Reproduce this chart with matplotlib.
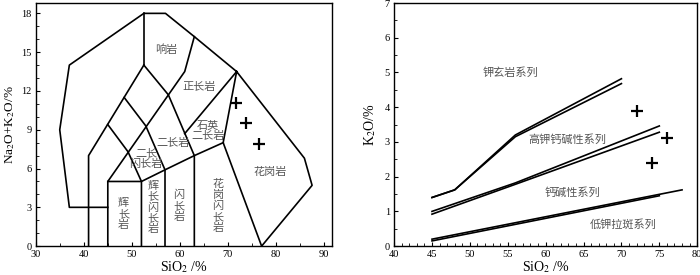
import matplotlib
matplotlib.use('Agg')
import matplotlib.pyplot as plt
from matplotlib.ticker import MultipleLocator

plt.rcParams['font.family'] = ['Liberation Serif', 'Noto Sans CJK SC']
plt.rcParams['mathtext.fontset'] = 'stix'

# ---- left panel: TAS (plutonic) field boundaries ----
outer_x = [45, 37, 35, 37, 52.5, 57, 63, 71.8, 85.9, 87.5, 77, 69, 71.8]
outer_y = [3, 3, 9, 14, 18, 18, 16.2, 13.5, 6.8, 4.7, 0, 8, 13.5]
b1_x, b1_y = [52.5, 52.5], [18, 14]
b2_x, b2_y = [52.5, 41, 41], [14, 7, 0]
b3_x, b3_y = [52.5, 57.6, 63, 63], [14, 11.7, 7, 0]
b4_x, b4_y = [63, 61, 45, 45], [16.2, 13.5, 5, 0]
b5_x, b5_y = [48.4, 52.9, 56.9, 56.9], [11.5, 9.3, 5.9, 0]
b6_x, b6_y = [45, 49.2, 52, 52], [9.4, 7.3, 5, 0]
b7_x, b7_y = [45, 52, 56.9, 63, 69], [5, 5, 5.9, 7, 8]
b8_x, b8_y = [61, 71.8], [8.7, 13.5]
tas_lines = [(outer_x, outer_y), (b1_x, b1_y), (b2_x, b2_y), (b3_x, b3_y),
             (b4_x, b4_y), (b5_x, b5_y), (b6_x, b6_y), (b7_x, b7_y), (b8_x, b8_y)]

tas_labels = ['响岩', '正长岩', '石英\n二长岩', '二长岩', '二长\n闪长岩', '花岗岩',
              '辉\n长\n岩', '辉\n长\n闪\n长\n岩', '闪\n长\n岩', '花\n岗\n闪\n长\n岩']
tas_lab_x = [57.2, 64.0, 65.8, 58.6, 53.0, 78.7, 48.3, 54.4, 59.8, 67.9]
tas_lab_y = [15.2, 12.3, 8.9, 8.0, 6.75, 5.7, 2.5, 3.0, 3.1, 3.1]

tas_sio2 = [71.7, 73.8, 76.4]
tas_alk = [11.1, 9.5, 7.9]

# ---- right panel: K2O vs SiO2 series boundaries ----
shoA_x, shoA_y = [45, 48, 56, 70], [1.4, 1.62, 3.2, 4.82]
shoB_x, shoB_y = [45, 48, 56, 70], [1.4, 1.62, 3.15, 4.68]
hkA_x, hkA_y = [45, 56, 75], [1.0, 1.82, 3.46]
hkB_x, hkB_y = [45, 56, 75], [0.92, 1.78, 3.28]
lkA_x, lkA_y = [45, 78], [0.2, 1.62]
lkB_x, lkB_y = [45, 75], [0.15, 1.45]
k_lines = [(shoA_x, shoA_y), (shoB_x, shoB_y), (hkA_x, hkA_y),
           (hkB_x, hkB_y), (lkA_x, lkA_y), (lkB_x, lkB_y)]

k_labels = ['钾玄岩系列', '高钾钙碱性系列', '钙碱性系列', '低钾拉斑系列']
k_lab_x = [55.3, 62.8, 63.5, 70.2]
k_lab_y = [5.0, 3.06, 1.54, 0.63]

k_sio2 = [72.1, 76.0, 74.1]
k_k2o = [3.9, 3.1, 2.38]

label_color = '#555555'

fig = plt.figure(figsize=(7, 2.75), dpi=100)
ax1 = fig.add_axes([0.051, 0.105, 0.423, 0.884])
ax2 = fig.add_axes([0.563, 0.105, 0.433, 0.884])

for xs, ys in tas_lines:
    ax1.plot(xs, ys, color='black', lw=1.2)
for t, x, y in zip(tas_labels, tas_lab_x, tas_lab_y):
    ax1.text(x, y, t, ha='center', va='center', fontsize=8, color=label_color,
             family=['Noto Sans CJK SC'], linespacing=1.1)
ax1.plot(tas_sio2, tas_alk, '+', color='black', ms=8, mew=1.6)

ax1.set_xlim(30, 91.6)
ax1.set_ylim(0, 18.8)
ax1.xaxis.set_major_locator(MultipleLocator(10))
ax1.xaxis.set_minor_locator(MultipleLocator(5))
ax1.yaxis.set_major_locator(MultipleLocator(3))
ax1.yaxis.set_minor_locator(MultipleLocator(1))
ax1.set_xlabel('SiO$_2$ /%', fontsize=10, labelpad=0)
ax1.set_ylabel('Na$_2$O+K$_2$O/%', fontsize=9.5, labelpad=3)

for xs, ys in k_lines:
    ax2.plot(xs, ys, color='black', lw=1.2)
for t, x, y in zip(k_labels, k_lab_x, k_lab_y):
    ax2.text(x, y, t, ha='center', va='center', fontsize=8, color=label_color,
             family=['Noto Sans CJK SC'])
ax2.plot(k_sio2, k_k2o, '+', color='black', ms=8, mew=1.6)

ax2.set_xlim(40, 80)
ax2.set_ylim(0, 7)
ax2.xaxis.set_major_locator(MultipleLocator(5))
ax2.xaxis.set_minor_locator(MultipleLocator(1))
ax2.yaxis.set_major_locator(MultipleLocator(1))
ax2.yaxis.set_minor_locator(MultipleLocator(0.5))
ax2.set_xlabel('SiO$_2$ /%', fontsize=10, labelpad=0)
ax2.set_ylabel('K$_2$O/%', fontsize=10, labelpad=5)

for ax in (ax1, ax2):
    ax.tick_params(which='both', direction='in', labelsize=7.5, pad=3)
    ax.tick_params(which='major', length=3, width=0.8)
    ax.tick_params(which='minor', length=2, width=0.6)
    for s in ax.spines.values():
        s.set_linewidth(1.0)

fig.savefig('out.png', dpi=100)
